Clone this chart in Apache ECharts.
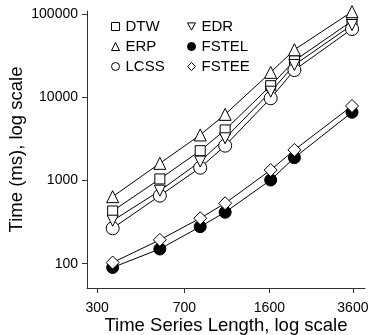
<!DOCTYPE html>
<html>
<head>
<meta charset="utf-8">
<script src="https://cdn.jsdelivr.net/npm/echarts@6/dist/echarts.min.js"></script>
<style>
  html, body { margin: 0; padding: 0; background: #fff; }
  #chart { width: 371px; height: 335px; }
</style>
</head>
<body>
<div id="chart"></div>
<script>
// time series lengths (x, log scale)
const lengths = [349, 552, 817, 1041, 1620, 2040, 3570]
const xTicks = [300, 700, 1600, 3600]
const yTicks = [100, 1000, 10000, 100000]

// running time in ms
const dtw = [429, 1040, 2270, 4030, 13700, 27300, 82000]
const erp = [637, 1600, 3510, 6200, 19800, 37000, 106000]
const lcss = [266, 655, 1420, 2610, 9680, 21100, 65700]
const edr = [328, 752, 1680, 3200, 11600, 24300, 73400]
const fstel = [90, 150, 278, 414, 1010, 1870, 6570]
const fstee = [103, 193, 351, 531, 1330, 2320, 7820]

const downTri = "path://M0,0L10,0L5,9Z"

const seriesDefs = [
  { name: "DTW", data: dtw, symbol: "rect", size: 10, fill: "#fff" },
  { name: "ERP", data: erp, symbol: "triangle", size: 12, fill: "#fff" },
  { name: "LCSS", data: lcss, symbol: "circle", size: 13, fill: "#fff" },
  { name: "EDR", data: edr, symbol: downTri, size: 11, fill: "#fff" },
  { name: "FSTEL", data: fstel, symbol: "circle", size: 12, fill: "#000" },
  { name: "FSTEE", data: fstee, symbol: "diamond", size: 13, fill: "#fff" },
]

const chart = echarts.init(document.getElementById("chart"), null, { renderer: "canvas" })

const legendBase = {
  orient: "vertical",
  itemWidth: 8,
  itemHeight: 8,
  itemGap: 5,
  itemStyle: { borderWidth: 1 },
  textStyle: { fontFamily: "Liberation Sans", fontSize: 15, color: "#000", padding: [0, 0, 0, 1] },
  padding: 0,
}

const axisText = { fontFamily: "Liberation Sans", fontSize: 14, color: "#000" }
const titleText = { fontFamily: "Liberation Sans", fontSize: 18.5, color: "#000" }

const option = {
  animation: false,
  backgroundColor: "#fff",
  grid: { left: 87, right: 6, top: 11, bottom: 47, containLabel: false, outerBoundsMode: "none" },
  legend: [
    Object.assign({}, legendBase, {
      left: 111, top: 19,
      data: [
        { name: "DTW", icon: "rect" },
        { name: "ERP", icon: "triangle" },
        { name: "LCSS", icon: "circle" },
      ],
    }),
    Object.assign({}, legendBase, {
      left: 187, top: 19,
      data: [
        { name: "EDR", icon: downTri },
        { name: "FSTEL", icon: "circle" },
        { name: "FSTEE", icon: "diamond" },
      ],
    }),
  ],
  xAxis: {
    type: "log",
    logBase: 10,
    min: 272,
    max: 4050,
    name: "Time Series Length, log scale",
    nameLocation: "middle",
    nameGap: 28,
    nameMoveOverlap: false,
    nameTextStyle: titleText,
    axisLine: { lineStyle: { color: "#333", width: 1 } },
    axisTick: { length: 5, lineStyle: { color: "#333" }, customValues: xTicks },
    axisLabel: Object.assign({ margin: 13, customValues: xTicks, formatter: (v) => String(Math.round(v)) }, axisText),
    splitLine: { show: false },
    minorTick: { show: false },
  },
  yAxis: {
    type: "log",
    logBase: 10,
    min: 51,
    max: 108000,
    name: "Time (ms), log scale",
    nameLocation: "middle",
    nameGap: 61,
    nameMoveOverlap: false,
    nameTextStyle: titleText,
    axisLine: { show: true, lineStyle: { color: "#333", width: 1 } },
    axisTick: { show: true, length: 5, lineStyle: { color: "#333" }, customValues: yTicks },
    axisLabel: Object.assign({ margin: 9, customValues: yTicks, formatter: (v) => String(Math.round(v)) }, axisText),
    splitLine: { show: false },
  },
  series: seriesDefs.map((s) => ({
    name: s.name,
    type: "line",
    data: lengths.map((x, i) => [x, s.data[i]]),
    symbol: s.symbol,
    symbolSize: s.size,
    showAllSymbol: true,
    lineStyle: { color: "#000", width: 1 },
    itemStyle: { color: s.fill, borderColor: "#000", borderWidth: 1 },
    emphasis: { disabled: true },
  })),
}

chart.setOption(option)
</script>
</body>
</html>
